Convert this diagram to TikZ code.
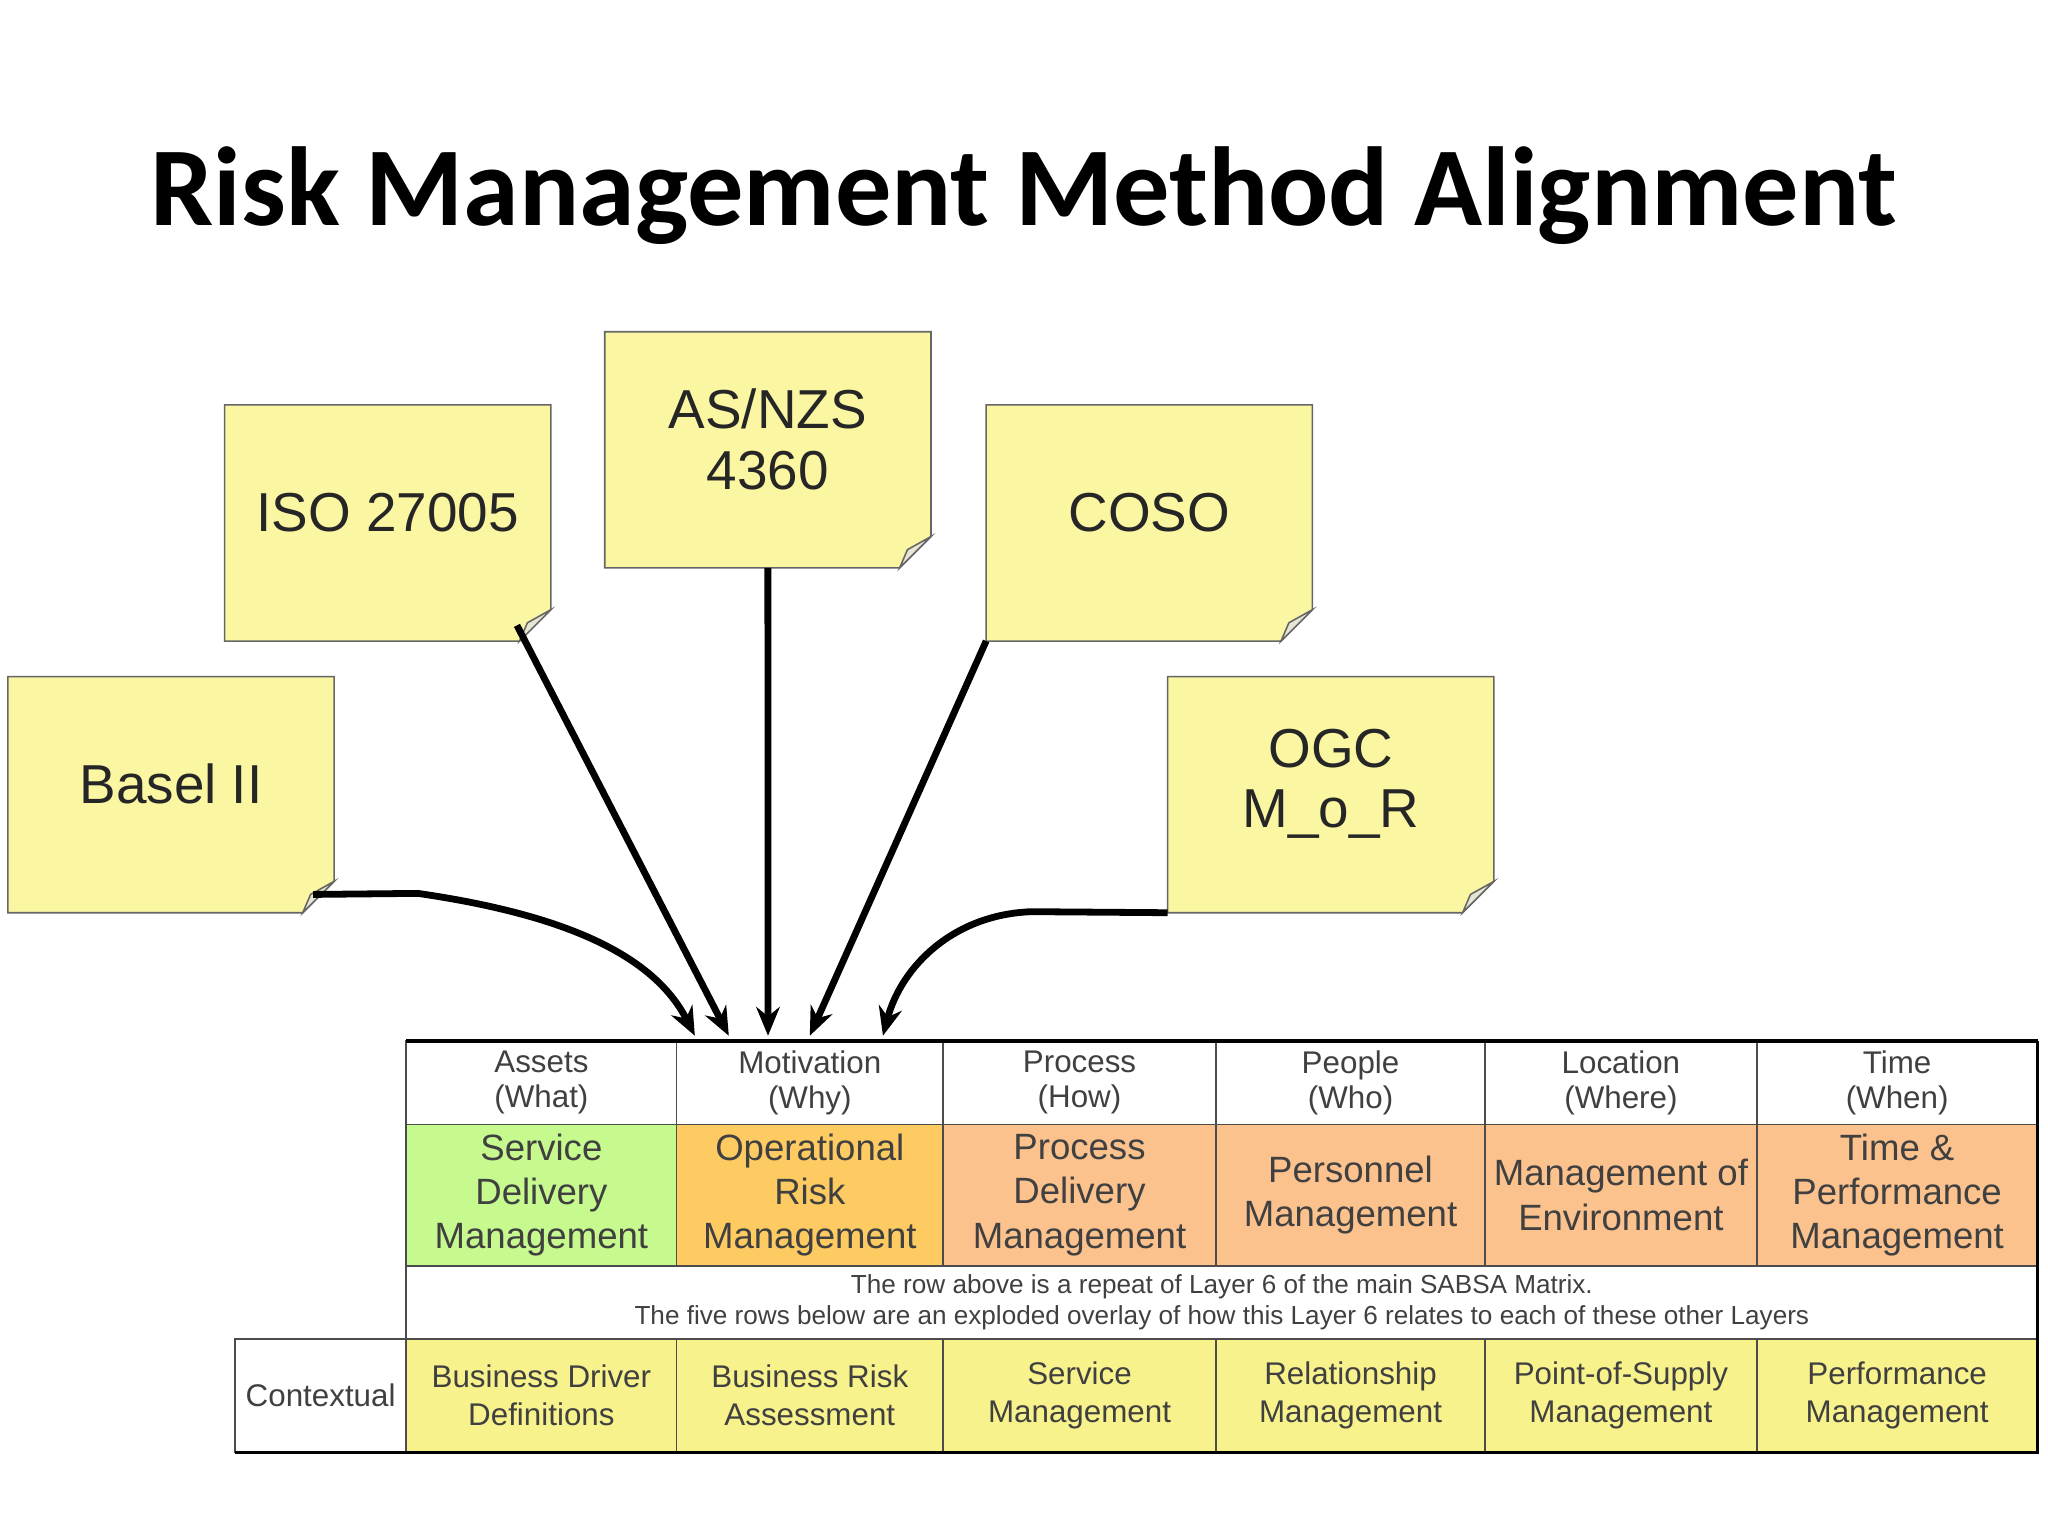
\documentclass[tikz,border=0pt]{standalone}
\usepackage{fontspec}
\setmainfont{Liberation Sans}
\newfontfamily\titlefont{Carlito}
\usetikzlibrary{arrows.meta}
\definecolor{notey}{HTML}{FAF6A2}
\definecolor{cgreen}{HTML}{C6F98E}
\definecolor{corange}{HTML}{FDCB62}
\definecolor{cpeach}{HTML}{FBC28E}
\definecolor{cyel}{HTML}{F7F28C}
\tikzset{
  note/.style={anchor=north west,minimum width=124.5pt,minimum height=90pt,inner sep=0pt,font=\fontsize{21}{25}\selectfont,align=center,text=black!85},
  arr/.style={line width=2.6pt,-{Stealth[length=11pt,width=9pt]}},
  cell/.style={draw=black!70,line width=0.7pt,inner sep=0pt,align=center,text=black!75},
}
\newcommand{\mynote}[4]{%
  \node[note] (#1) at (#2,#3) {};
  \fill[notey,draw=black!60,line width=0.6pt] (#1.north west) -- (#1.north east) -- ([yshift=12pt]#1.south east) -- ([xshift=-12pt]#1.south east) -- (#1.south west) -- cycle;
  \fill[notey!70!black!30,draw=black!60,line width=0.6pt] ([yshift=12pt]#1.south east) -- ([xshift=-12pt]#1.south east) -- ([xshift=-9pt,yshift=7pt]#1.south east) -- cycle;
  \node[font=\fontsize{21}{25}\selectfont,align=center,text=black!85] at ([yshift=4pt]#1.center) {#4};}
\newcommand{\mycell}[7]{% name x1 y1 x2 y2 fill text
  \path[cell,fill=#6] (#2,#3) rectangle (#4,#5);
  \node[align=center,text=black!75,inner sep=0pt] (#1) at ({(#2+#4)/2},{(#3+#5)/2}) {#7};}
\begin{document}
\begin{tikzpicture}[x=0.5pt,y=-0.5pt]
\useasboundingbox[fill=white] (0,0) rectangle (1568,1176);
\node[font=\titlefont\bfseries\fontsize{43}{50}\selectfont] (title) at (784,150) {Risk Management Method Alignment};
\mynote{iso}{172}{310}{ISO 27005}
\mynote{as}{463}{254}{AS/NZS\\[-2pt]4360}
\mynote{coso}{755}{310}{COSO}
\mynote{basel}{6}{518}{Basel II}
\mynote{ogc}{894}{518}{OGC\\[-2pt]M\_o\_R}
% table
\begin{scope}[font=\fontsize{12}{13.5}\selectfont]
\mycell{h1}{311}{797}{518}{861}{white}{Assets\\(What)}
\mycell{h2}{518}{797}{722}{861}{white}{Motivation\\(Why)}
\mycell{h3}{722}{797}{931}{861}{white}{Process\\(How)}
\mycell{h4}{931}{797}{1137}{861}{white}{People\\(Who)}
\mycell{h5}{1137}{797}{1345}{861}{white}{Location\\(Where)}
\mycell{h6}{1345}{797}{1560}{861}{white}{Time\\(When)}
\end{scope}
\begin{scope}[font=\fontsize{14}{17}\selectfont]
\mycell{l1}{311}{861}{518}{969}{cgreen}{Service\\Delivery\\Management}
\mycell{l2}{518}{861}{722}{969}{corange}{Operational\\Risk\\Management}
\mycell{l3}{722}{861}{931}{969}{cpeach}{Process\\Delivery\\Management}
\mycell{l4}{931}{861}{1137}{969}{cpeach}{Personnel\\Management}
\mycell{l5}{1137}{861}{1345}{969}{cpeach}{Management of\\Environment}
\mycell{l6}{1345}{861}{1560}{969}{cpeach}{Time \&\\Performance\\Management}
\end{scope}
\mycell{nt}{311}{969}{1560}{1025}{white}{\fontsize{10}{14}\selectfont The row above is a repeat of Layer 6 of the main SABSA Matrix.\\\fontsize{10}{14}\selectfont The five rows below are an exploded overlay of how this Layer 6 relates to each of these other Layers}
\begin{scope}[font=\fontsize{12}{14.5}\selectfont]
\mycell{ctx}{180}{1025}{311}{1112}{white}{Contextual}
\mycell{c1}{311}{1025}{518}{1112}{cyel}{Business Driver\\Definitions}
\mycell{c2}{518}{1025}{722}{1112}{cyel}{Business Risk\\Assessment}
\mycell{c3}{722}{1025}{931}{1112}{cyel}{Service\\Management}
\mycell{c4}{931}{1025}{1137}{1112}{cyel}{Relationship\\Management}
\mycell{c5}{1137}{1025}{1345}{1112}{cyel}{Point-of-Supply\\Management}
\mycell{c6}{1345}{1025}{1560}{1112}{cyel}{Performance\\Management}
\end{scope}
\draw[line width=1.2pt] (180,1112) -- (1560,1112) -- (1560,797);
\draw[line width=1.2pt] (311,797) -- (1560,797);
% arrows
\coordinate (t1) at (532,793);
\coordinate (t2) at (558,793);
\coordinate (t3) at (588,793);
\coordinate (t4) at (620,793);
\coordinate (t5) at (676,793);
\draw[arr] ([xshift=-8pt,yshift=7pt]basel.south east) -- (320,684) .. controls (430,700) and (500,730) .. (t1);
\draw[arr] ([xshift=-13pt,yshift=6pt]iso.south east) -- (t2);
\draw[arr] (as.south) -- (t3);
\draw[arr] (coso.south west) -- (t4);
\draw[arr] (ogc.south west) -- (790,698) .. controls (730,700) and (690,740) .. (t5);
\end{tikzpicture}
\end{document}
